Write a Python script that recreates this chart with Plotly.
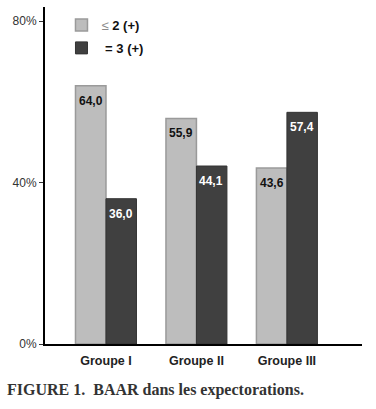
import plotly.graph_objects as go

categories = ["Groupe I", "Groupe II", "Groupe III"]
series_names = ["<span style='color:#8a8a8a'>\u2264</span><b> 2 (+)</b>", "<b> = 3 (+)</b>"]
low_values = [64.0, 55.9, 43.6]
high_values = [36.0, 44.1, 57.4]
ytick_vals = [0, 40, 80]
ytick_text = ["0%", "40%", "80%"]

def fmt(v):
    return f"{v:.1f}".replace(".", ",")

fig = go.Figure()
fig.add_trace(go.Bar(
    x=categories, y=low_values, name=series_names[0], legendgroup="a",
    marker=dict(color="#bdbdbd", line=dict(color="#9a9a9a", width=1.5)),
    offsetgroup="a",
))
fig.add_trace(go.Bar(
    x=categories, y=high_values, name=series_names[1], legendgroup="b",
    marker=dict(color="#404040", line=dict(color="#333333", width=1)),
    offsetgroup="b",
))

# value labels near top of each bar
for i, v in enumerate(low_values):
    fig.add_annotation(x=i, y=v, text=f"<b>{fmt(v)}</b>", showarrow=False,
                       xshift=-15, yshift=-15, font=dict(family="Liberation Sans, Arial", size=12, color="#111"))
for i, v in enumerate(high_values):
    fig.add_annotation(x=i, y=v, text=f"<b>{fmt(v)}</b>", showarrow=False,
                       xshift=15, yshift=-15, font=dict(family="Liberation Sans, Arial", size=12, color="#ffffff"))

fig.add_annotation(xref="paper", yref="paper", x=-40/317, y=-46/337, xanchor="left", yanchor="middle",
                   text="<b>FIGURE 1.  BAAR dans les expectorations.</b>", showarrow=False,
                   font=dict(family="Liberation Serif, DejaVu Serif", size=16, color="#333"))

fig.update_layout(
    width=376, height=409,
    margin=dict(l=45, r=14, t=7, b=65),
    paper_bgcolor="white", plot_bgcolor="white",
    barmode="group", bargap=0.326, bargroupgap=0,
    showlegend=True,
    legend=dict(x=0.052, y=0.991, xanchor="left", yanchor="top",
                font=dict(family="Liberation Sans, Arial", size=13, color="#111"),
                bgcolor="rgba(0,0,0,0)", itemwidth=30,
                traceorder="grouped", tracegroupgap=3),
    xaxis=dict(range=[-0.674, 2.83], showline=True, linecolor="black", linewidth=2,
               tickfont=dict(family="Liberation Sans, Arial", size=12.5, color="#222"),
               ticks="", showgrid=False, ticklabelstandoff=4,
               tickvals=[0, 1, 2], ticktext=[f"<b>{c}</b>" for c in categories]),
    yaxis=dict(range=[0, 83.5], showline=True, linecolor="black", linewidth=2,
               tickvals=ytick_vals, ticktext=ytick_text, ticks="outside", ticklen=4,
               tickcolor="#333", showgrid=False, zeroline=False,
               tickfont=dict(family="Liberation Sans, Arial", size=12, color="#333")),
)

fig.write_html("out.html", post_script="document.body.style.margin='0';",
               config={"displayModeBar": False})
